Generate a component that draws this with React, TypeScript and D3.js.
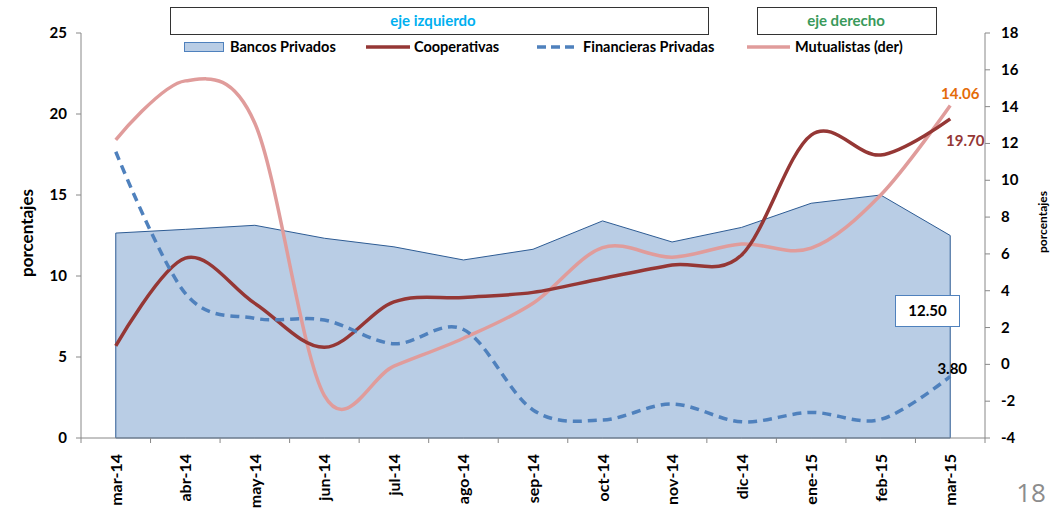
import * as d3 from "d3";

const months = [
  "mar-14", "abr-14", "may-14", "jun-14", "jul-14", "ago-14", "sep-14",
  "oct-14", "nov-14", "dic-14", "ene-15", "feb-15", "mar-15",
];
const bancosPrivados = [12.65, 12.88, 13.13, 12.33, 11.8, 10.99, 11.65, 13.4, 12.1, 13.0, 14.49, 15.0, 12.5];
const cooperativas = [5.68, 11.1, 8.31, 5.6, 8.4, 8.68, 8.99, 9.85, 10.68, 11.3, 18.7, 17.47, 19.7];
const financieras = [17.67, 8.93, 7.39, 7.28, 5.82, 6.7, 1.73, 1.11, 2.1, 1.0, 1.58, 1.15, 3.8];
const mutualistas = [12.2, 15.4, 13.1, -1.7, -0.1, 1.42, 3.32, 6.34, 5.82, 6.54, 6.31, 9.2, 14.06];
const leftTicks = [0, 5, 10, 15, 20, 25];
const rightTicks = [-4, -2, 0, 2, 4, 6, 8, 10, 12, 14, 16, 18];

const W = 1054;
const H = 511;
const left = 81;
const right = 985;
const top = 33;
const bottom = 438;
const font = "Lato, 'Open Sans', sans-serif";
const axisColor = "#888888";

export default function App() {
  const x = d3.scalePoint<string>().domain(months).range([left, right]).padding(0.5);
  const band = (right - left) / months.length;
  const yL = d3.scaleLinear().domain([0, 25]).range([bottom, top]);
  const yR = d3.scaleLinear().domain([-4, 18]).range([bottom, top]);
  const curve = d3.curveCardinal.tension(0);

  const area = d3
    .area<number>()
    .x((_, i) => x(months[i])!)
    .y0(yL(0))
    .y1((d) => yL(d));
  const lineL = d3
    .line<number>()
    .x((_, i) => x(months[i])!)
    .y((d) => yL(d))
    .curve(curve);
  const lineR = d3
    .line<number>()
    .x((_, i) => x(months[i])!)
    .y((d) => yR(d))
    .curve(curve);

  const bounds = d3.range(months.length + 1).map((i) => left + i * band);
  const lastX = x(months[months.length - 1])!;

  return (
    <svg
      width={W}
      height={H}
      style={{ position: "absolute", left: 0, top: 0, background: "#fff" }}
      fontFamily={font}
    >
      {/* header boxes */}
      <rect x={170.5} y={7.5} width={538} height={27} fill="#fff" stroke="#333" strokeWidth={1} />
      <text x={433} y={26} textAnchor="middle" fontSize={15} fontWeight="bold" fill="#00B0F0">
        eje izquierdo
      </text>
      <rect x={757.5} y={7.5} width={179} height={27} fill="#fff" stroke="#333" strokeWidth={1} />
      <text x={846} y={26} textAnchor="middle" fontSize={15} fontWeight="bold" fill="#3A9A5B">
        eje derecho
      </text>

      {/* legend */}
      <rect x={184.5} y={42.5} width={39} height={9} fill="#B9CDE5" stroke="#4F81BD" />
      <text x={230} y={52} fontSize={14.5} fontWeight="bold">Bancos Privados</text>
      <line x1={366} x2={410} y1={47} y2={47} stroke="#953735" strokeWidth={3.5} />
      <text x={414} y={52} fontSize={14.5} fontWeight="bold">Cooperativas</text>
      <line x1={537} x2={577} y1={47} y2={47} stroke="#4F81BD" strokeWidth={3.5} strokeDasharray="9,5" />
      <text x={583} y={52} fontSize={14.5} fontWeight="bold">Financieras Privadas</text>
      <line x1={747} x2={790} y1={47} y2={47} stroke="#E09C9B" strokeWidth={3.5} />
      <text x={795} y={52} fontSize={14.5} fontWeight="bold">Mutualistas (der)</text>

      {/* area */}
      <path
        d={area(bancosPrivados)! + "Z"}
        fill="#B9CDE5"
        stroke="#2E5C94"
        strokeWidth={1}
      />

      {/* axes */}
      <line x1={left} x2={left} y1={top} y2={bottom} stroke={axisColor} />
      {leftTicks.map((t) => (
        <g key={"l" + t}>
          <line x1={left - 5} x2={left} y1={yL(t)} y2={yL(t)} stroke={axisColor} />
          <text x={left - 14} y={yL(t) + 5} textAnchor="end" fontSize={15} fontWeight="bold">
            {t}
          </text>
        </g>
      ))}
      <line x1={right} x2={right} y1={top} y2={bottom} stroke={axisColor} />
      {rightTicks.map((t) => (
        <g key={"r" + t}>
          <line x1={right} x2={right + 5} y1={yR(t)} y2={yR(t)} stroke={axisColor} />
          <text x={right + 16} y={yR(t) + 5} textAnchor="start" fontSize={15} fontWeight="bold">
            {t}
          </text>
        </g>
      ))}
      <line x1={left} x2={right} y1={bottom} y2={bottom} stroke={axisColor} />
      {bounds.map((b, i) => (
        <line key={"b" + i} x1={b} x2={b} y1={bottom} y2={bottom + 5} stroke={axisColor} />
      ))}
      {months.map((m) => (
        <text
          key={m}
          transform={`translate(${x(m)! + 6},${454}) rotate(-90)`}
          textAnchor="end"
          fontSize={16}
          fontWeight="bold"
        >
          {m}
        </text>
      ))}

      {/* lines */}
      <path d={lineR(mutualistas)!} fill="none" stroke="#E09C9B" strokeWidth={3.5} />
      <path d={lineL(cooperativas)!} fill="none" stroke="#953735" strokeWidth={3.5} />
      <path
        d={lineL(financieras)!}
        fill="none"
        stroke="#4F81BD"
        strokeWidth={3.5}
        strokeDasharray="9,6"
      />

      {/* data labels */}
      <text x={lastX + 10} y={yR(14.06) - 7} textAnchor="middle" fontSize={15} fontWeight="bold" fill="#E46C0A">
        14.06
      </text>
      <text x={lastX + 15} y={yL(19.7) + 27} textAnchor="middle" fontSize={15} fontWeight="bold" fill="#953735">
        19.70
      </text>
      <text x={lastX + 2} y={yL(3.8) - 2} textAnchor="middle" fontSize={15} fontWeight="bold">
        3.80
      </text>
      <rect x={895.5} y={295.5} width={64} height={31} fill="#fff" stroke="#4F81BD" />
      <text x={927.5} y={316} textAnchor="middle" fontSize={15} fontWeight="bold">
        12.50
      </text>

      {/* axis titles */}
      <text transform="translate(33,233) rotate(-90)" textAnchor="middle" fontSize={17} fontWeight="bold">
        porcentajes
      </text>
      <text transform="translate(1047,222) rotate(-90)" textAnchor="middle" fontSize={12} fontWeight="bold">
        porcentajes
      </text>

      <text x={1031} y={502} textAnchor="middle" fontSize={26} fill="#8C8C8C" fontFamily="'Open Sans', sans-serif">
        18
      </text>
    </svg>
  );
}
